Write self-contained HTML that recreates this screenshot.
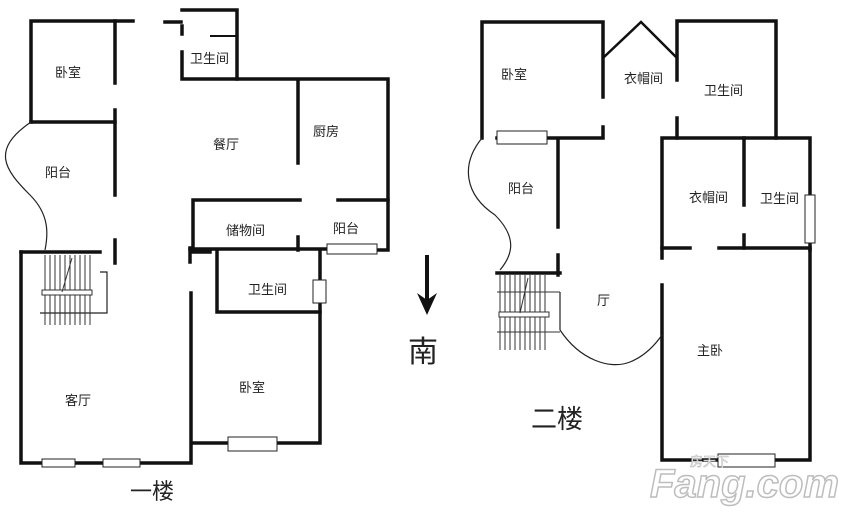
<!DOCTYPE html>
<html><head><meta charset="utf-8"><style>
html,body{margin:0;padding:0;background:#fff;}
svg{display:block;}
text{font-family:"Liberation Sans","Noto Sans CJK SC",sans-serif;fill:#222;}
</style></head><body>
<svg width="849" height="522" viewBox="0 0 849 522" xmlns="http://www.w3.org/2000/svg">
<g stroke="#111" stroke-width="3.5" fill="none" stroke-linecap="square">
<path d="M31,122 V21 H133"/>
<path d="M115,21 V83"/>
<path d="M31,122 H115"/>
<path d="M115,110 V195"/>
<path d="M165,22 H181"/>
<path d="M182,26 V34 M182,52 V79 H388 V250 H378"/>
<path d="M182,10 H237 V79"/>
<path d="M211,36 H237" stroke-width="2"/>
<path d="M298,80 V163"/>
<path d="M193,200 H300 M193,200 V250 M190,249 H328 M298,237 V250"/>
<path d="M338,200 H388"/>
<path d="M21,252 V463 H191 V293"/>
<path d="M21,252 H100"/>
<path d="M115,240 V263"/>
<path d="M191,252 H210 M217,252 V312 H320"/>
<path d="M320,250 V443 H277 M228,443 H192"/>
<path d="M190,248 V262"/>
<path d="M482,138 V22 H603 V97 M603,127 V138 H497"/>
<path d="M604,57 L641,22 L677,58" stroke-width="2.5"/>
<path d="M677,80 V21 H776 V138 M677,118 V138"/>
<path d="M662,258 V138 H810 V250"/>
<path d="M744,138 V205 M744,235 V248"/>
<path d="M662,248 H690 M719,248 H810"/>
<path d="M558,140 V227 M558,255 V275 M497,273 H560"/>
<path d="M810,250 V460 H775 M718,460 H662 V285"/>
</g>
<g stroke="#222" stroke-width="1" fill="#fff">
<rect x="327" y="244" width="50" height="10"/>
<rect x="42" y="459" width="33" height="8"/>
<rect x="103" y="459" width="37" height="8"/>
<rect x="228" y="437" width="49" height="14"/>
<rect x="313" y="280" width="13" height="23"/>
<rect x="497" y="131" width="50" height="13"/>
<rect x="805" y="195" width="10" height="48"/>
<rect x="718" y="454" width="57" height="13"/>
</g>
<g stroke="#222" stroke-width="1.2" fill="none">
<path d="M31,122 C-10,150 5,170 30,195 C50,215 48,235 45,250"/>
<path d="M482,138 C460,165 465,195 495,215 C520,240 510,258 500,270"/>
<path d="M560,330 C580,360 610,370 630,362 C645,356 655,345 662,335"/>
<path d="M560,292 H560 V330"/>
<path d="M100,272 H107 V313 H40"/>
</g>
<g stroke="#333" stroke-width="1">
<path d="M45,255 V325 M50,255 V325 M55,255 V325 M60,255 V325 M65,255 V325 M70,255 V325 M75,255 V325 M80,255 V325 M85,255 V325 M90,255 V325"/>
<path d="M500,275 V350 M505,275 V350 M510,275 V350 M515,275 V350 M520,275 V350 M525,275 V350 M530,275 V350 M535,275 V350 M540,275 V350 M545,275 V350"/>
<rect x="42" y="290" width="50" height="5" fill="#fff"/>
<rect x="499" y="312" width="50" height="5" fill="#fff"/>
<path d="M62,292 L72,258 M520,313 L528,278"/>
<path d="M497,292 H560 M497,332 H560"/>
</g>
<line x1="427" y1="255" x2="427" y2="300" stroke="#111" stroke-width="4"/>
<path d="M417,293 L427,315 L437,293 L427,300 Z" fill="#111"/>
<g font-size="13">
<text x="55" y="77">卧室</text>
<text x="190" y="63">卫生间</text>
<text x="213" y="149">餐厅</text>
<text x="313" y="136">厨房</text>
<text x="45" y="177">阳台</text>
<text x="226" y="235">储物间</text>
<text x="333" y="233">阳台</text>
<text x="248" y="294">卫生间</text>
<text x="239" y="392">卧室</text>
<text x="65" y="405">客厅</text>
<text x="501" y="79">卧室</text>
<text x="624" y="83">衣帽间</text>
<text x="704" y="95">卫生间</text>
<text x="508" y="193">阳台</text>
<text x="689" y="202">衣帽间</text>
<text x="760" y="203">卫生间</text>
<text x="597" y="305">厅</text>
<text x="697" y="355">主卧</text>
</g>
<text x="130" y="499" font-size="22">一楼</text>
<text x="531" y="428" font-size="26">二楼</text>
<text x="408" y="362" font-size="30">南</text>
<text x="650" y="497" font-size="40" font-weight="bold" font-style="italic" style="fill:#fff;stroke:#bdbdbd;stroke-width:1.5">Fang.com</text>
<text x="690" y="466" font-size="13" style="fill:#fff;stroke:#bbb;stroke-width:0.6">房天下</text>
</svg>
</body></html>
